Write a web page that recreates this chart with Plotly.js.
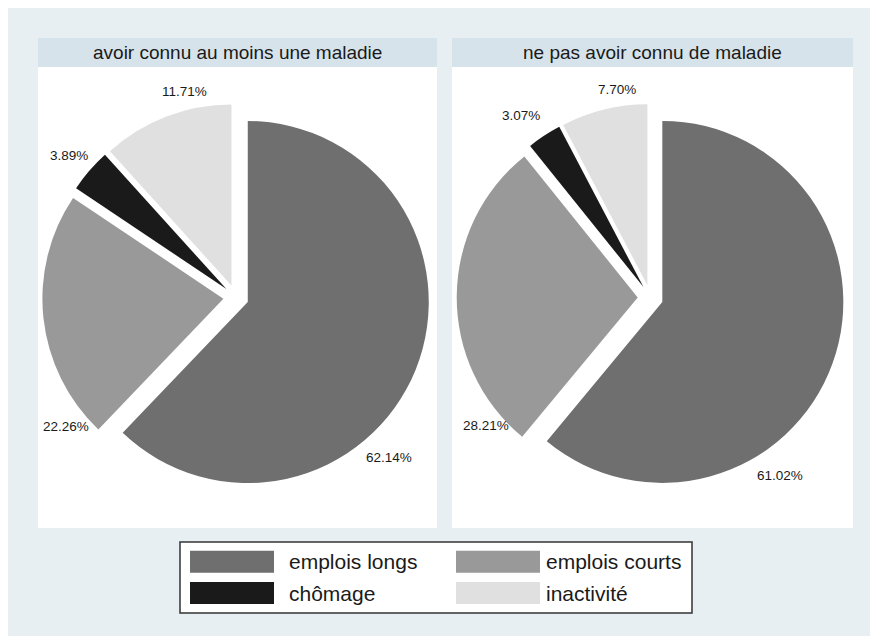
<!DOCTYPE html>
<html>
<head>
<meta charset="utf-8">
<script src="https://cdn.plot.ly/plotly-3.0.1.min.js"></script>
<style>
  html, body { margin: 0; padding: 0; background: #ffffff; }
  #chart { width: 870px; height: 636px; }
</style>
</head>
<body>
<div id="chart"></div>
<script>
// ---- data ----
const categories = ['emplois longs', 'emplois courts', 'chômage', 'inactivité'];
const avecMaladie = [62.14, 22.26, 3.89, 11.71];
const sansMaladie = [61.02, 28.21, 3.07, 7.70];
const panelTitles = ['avoir connu au moins une maladie', 'ne pas avoir connu de maladie'];
const sliceColors = ['#6f6f6f', '#999999', '#1a1a1a', '#e0e0e0'];

// ---- layout helpers (pixel -> paper) ----
const W = 870, H = 636;
const px = x => x / W;
const py = y => 1 - y / H;

const FONT = 'Liberation Sans, Arial, sans-serif';
const outerBg = '#e8eff2';
const headerBg = '#d7e3ea';

// pie geometry (layout)
const pull = 0.07;
const radius = 181;
const half = radius * (1 + pull);
const pieCenters = [[236, 297.3], [650.4, 297.6]];
const panels = [[38, 437], [452, 853]];
const panelTop = 38, headerBottom = 67, panelBottom = 528;
// percent-label placement, pixel offsets from each pie centre (layout, as in the reference)
const labelOffsets = [
  [[152.5, 160.7], [-170.5, 128.7], [-167, -142.3], [-52, -206.3]],
  [[129.6, 177.4], [-164.4, 127.4], [-129.9, -182.6], [-33.7, -208.3]]
];

function pieTrace(values, idx) {
  const [cx, cy] = pieCenters[idx];
  return {
    type: 'pie',
    labels: categories,
    values: values,
    sort: false,
    direction: 'clockwise',
    rotation: 0,
    pull: values.map(() => pull),
    marker: { colors: sliceColors, line: { width: 0 } },
    textinfo: 'none',
    hoverinfo: 'label+percent',
    showlegend: false,
    domain: {
      x: [px(cx - half), px(cx + half)],
      y: [py(cy + half), py(cy - half)]
    }
  };
}

const shapes = [];
const annotations = [];

// outer background
shapes.push({ type: 'rect', xref: 'paper', yref: 'paper', layer: 'below',
  x0: px(8), x1: px(W), y0: py(H), y1: py(8),
  fillcolor: outerBg, line: { width: 0 } });

panels.forEach(([x0, x1], i) => {
  shapes.push({ type: 'rect', xref: 'paper', yref: 'paper', layer: 'below',
    x0: px(x0), x1: px(x1), y0: py(panelBottom), y1: py(panelTop),
    fillcolor: '#ffffff', line: { width: 0 } });
  shapes.push({ type: 'rect', xref: 'paper', yref: 'paper', layer: 'below',
    x0: px(x0), x1: px(x1), y0: py(headerBottom), y1: py(panelTop),
    fillcolor: headerBg, line: { width: 0 } });
  annotations.push({ xref: 'paper', yref: 'paper',
    x: px((x0 + x1) / 2), y: py((panelTop + headerBottom) / 2),
    xanchor: 'center', yanchor: 'middle', showarrow: false,
    text: panelTitles[i], font: { family: FONT, size: 19, color: '#1a1a1a' } });
});

// percent labels from the data values
[avecMaladie, sansMaladie].forEach((vals, p) => {
  const [cx, cy] = pieCenters[p];
  vals.forEach((v, i) => {
    const [dx, dy] = labelOffsets[p][i];
    annotations.push({ xref: 'paper', yref: 'paper',
      x: px(cx + dx), y: py(cy + dy),
      xanchor: 'center', yanchor: 'middle', showarrow: false,
      text: v.toFixed(2) + '%',
      font: { family: FONT, size: 13.5, color: '#1a1a1a' } });
  });
});

// legend box
const legBox = { x0: 180, x1: 692, y0: 542, y1: 613 };
shapes.push({ type: 'rect', xref: 'paper', yref: 'paper', layer: 'below',
  x0: px(legBox.x0), x1: px(legBox.x1), y0: py(legBox.y1), y1: py(legBox.y0),
  fillcolor: '#ffffff', line: { color: '#333333', width: 1.5 } });
const colSwatchX = [190, 456];
const colTextX = [287, 544];
const rowY = [561.7, 593];
const swW = 84, swH = 22;
categories.forEach((cat, i) => {
  const c = i % 2, r = Math.floor(i / 2);
  shapes.push({ type: 'rect', xref: 'paper', yref: 'paper',
    x0: px(colSwatchX[c]), x1: px(colSwatchX[c] + swW),
    y0: py(rowY[r] + swH / 2), y1: py(rowY[r] - swH / 2),
    fillcolor: sliceColors[i], line: { width: 0 } });
  annotations.push({ xref: 'paper', yref: 'paper',
    x: px(colTextX[c]), y: py(rowY[r]),
    xanchor: 'left', yanchor: 'middle', showarrow: false,
    text: cat, font: { family: FONT, size: 21, color: '#1a1a1a' } });
});

const data = [pieTrace(avecMaladie, 0), pieTrace(sansMaladie, 1)];

const layout = {
  width: W, height: H,
  margin: { l: 0, r: 0, t: 0, b: 0, pad: 0 },
  paper_bgcolor: '#ffffff',
  plot_bgcolor: '#ffffff',
  showlegend: false,
  shapes: shapes,
  annotations: annotations,
  font: { family: FONT }
};

Plotly.newPlot('chart', data, layout, { displayModeBar: false, staticPlot: true });
</script>
</body>
</html>
